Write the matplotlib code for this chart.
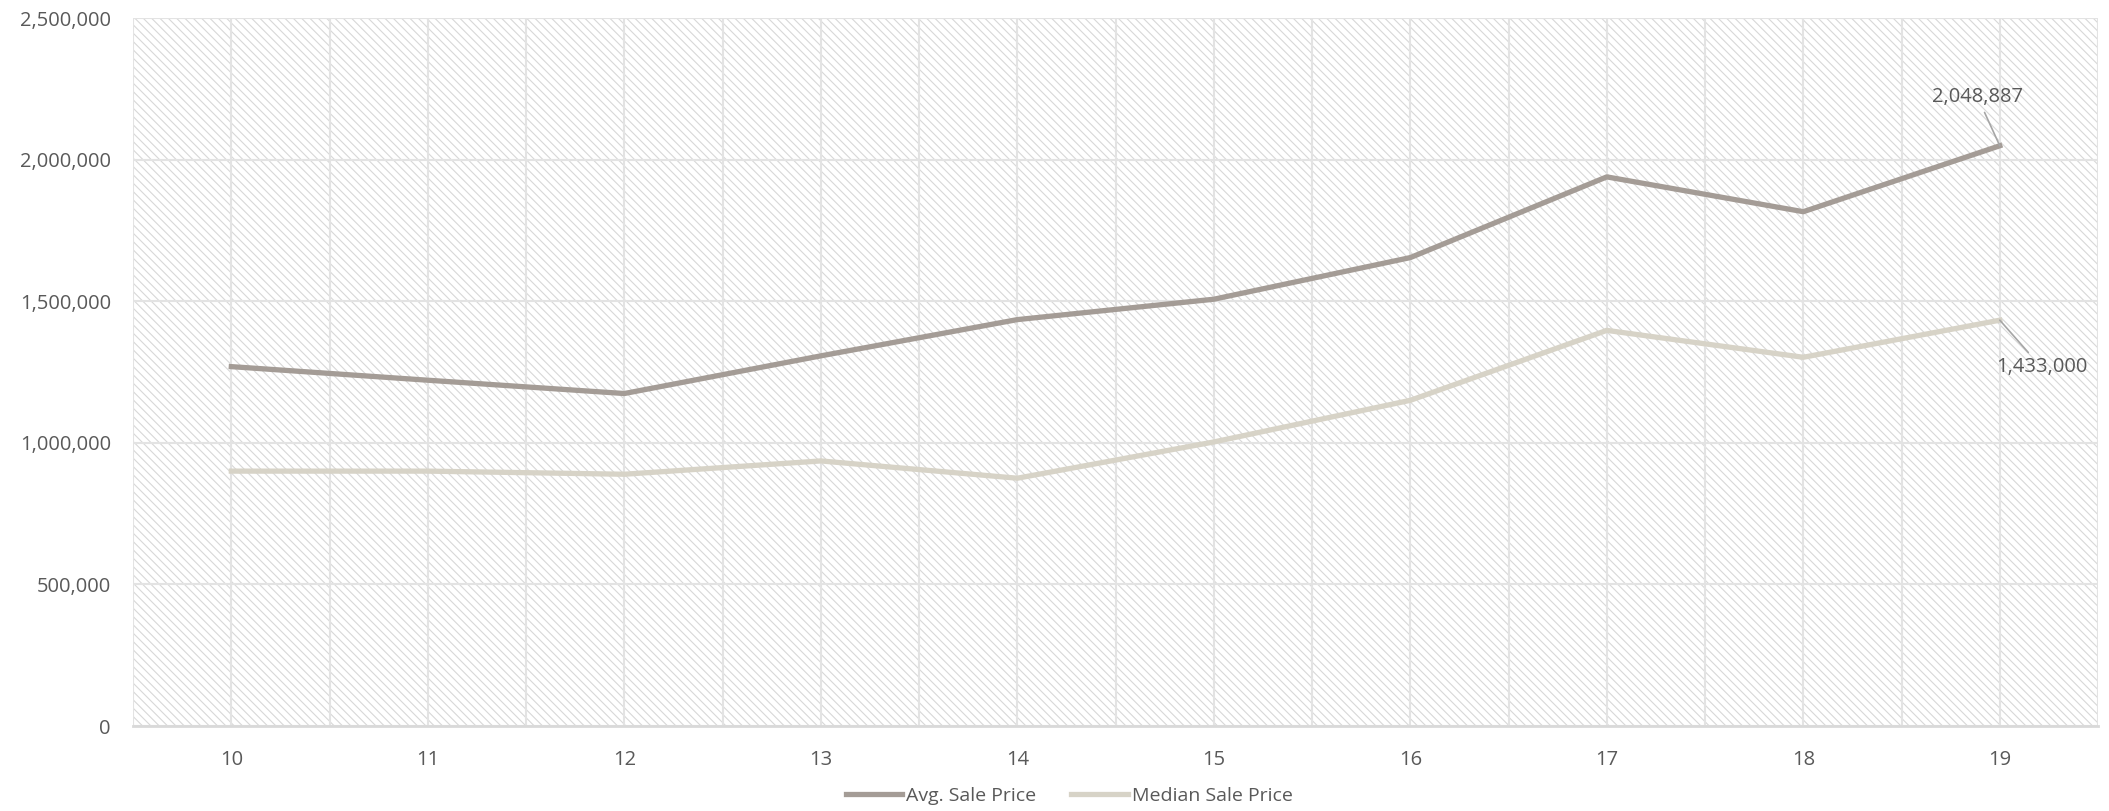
import matplotlib.pyplot as plt
from matplotlib.patches import Rectangle
from matplotlib.ticker import FuncFormatter, MultipleLocator

# data
categories = ["10", "11", "12", "13", "14", "15", "16", "17", "18", "19"]
avg_price = [1269000, 1221000, 1174000, 1307000, 1435000, 1507000, 1654000, 1939000, 1816000, 2048887]
median_price = [900000, 900000, 889000, 936000, 875000, 1003000, 1150000, 1397000, 1302000, 1433000]

avg_color = "#A49C96"
median_color = "#D7D3C7"
grid_color = "#E3E3E3"
text_color = "#595959"

plt.rcParams['font.family'] = ['Open Sans', 'DejaVu Sans']
plt.rcParams['hatch.linewidth'] = 0.8

fig = plt.figure(figsize=(21.09, 8.11), dpi=100)
ax = fig.add_axes([0.0631, 0.1048, 0.9317, 0.873])

x = list(range(len(categories)))

# hatched plot background
ax.add_patch(Rectangle((0, 0), 1, 1, transform=ax.transAxes, facecolor="white",
                       edgecolor="#D8D8D8", hatch="\\\\\\\\", lw=0, zorder=0))

ax.plot(x, avg_price, color=avg_color, lw=3.8, solid_joinstyle="round", zorder=3,
        label="Avg. Sale Price")
ax.plot(x, median_price, color=median_color, lw=3.8, solid_joinstyle="round", zorder=3,
        label="Median Sale Price")

ax.set_xlim(-0.5, len(categories) - 0.5)
ax.set_ylim(0, 2500000)
ax.set_xticks(x)
ax.set_xticklabels(categories)
ax.xaxis.set_minor_locator(MultipleLocator(0.5))
ax.yaxis.set_major_locator(MultipleLocator(500000))
ax.yaxis.set_major_formatter(FuncFormatter(lambda v, p: f"{v:,.0f}"))

ax.grid(True, which="both", axis="x", color=grid_color, lw=1.5, zorder=1)
ax.grid(True, which="major", axis="y", color=grid_color, lw=1.5, zorder=1)
ax.set_axisbelow(True)

ax.tick_params(axis="both", which="both", length=0, labelsize=14.5, labelcolor=text_color)
ax.tick_params(axis="y", pad=16)
ax.tick_params(axis="x", pad=17)

for s in ["top", "right", "left"]:
    ax.spines[s].set_visible(False)
ax.spines["bottom"].set_color("#D9D9D9")
ax.spines["bottom"].set_linewidth(2)

# data labels on the last points
ax.annotate(f"{avg_price[-1]:,}", xy=(x[-1], avg_price[-1]), xytext=(-16, 35),
            textcoords="offset points", ha="center", va="center", fontsize=14.5,
            color=text_color,
            arrowprops=dict(arrowstyle="-", color="#A6A6A6", lw=1.2, shrinkA=2, shrinkB=0))
ax.annotate(f"{median_price[-1]:,}", xy=(x[-1], median_price[-1]), xytext=(30, -34),
            textcoords="offset points", ha="center", va="center", fontsize=14.5,
            color=text_color,
            arrowprops=dict(arrowstyle="-", color="#A6A6A6", lw=1.2, shrinkA=2, shrinkB=0))

fig.legend(loc="center", bbox_to_anchor=(0.507, 0.0185), ncol=2, frameon=False,
           fontsize=14, labelcolor=text_color, handlelength=2.9, handletextpad=0.2,
           columnspacing=1.8)

fig.savefig("out.png", dpi=100)
